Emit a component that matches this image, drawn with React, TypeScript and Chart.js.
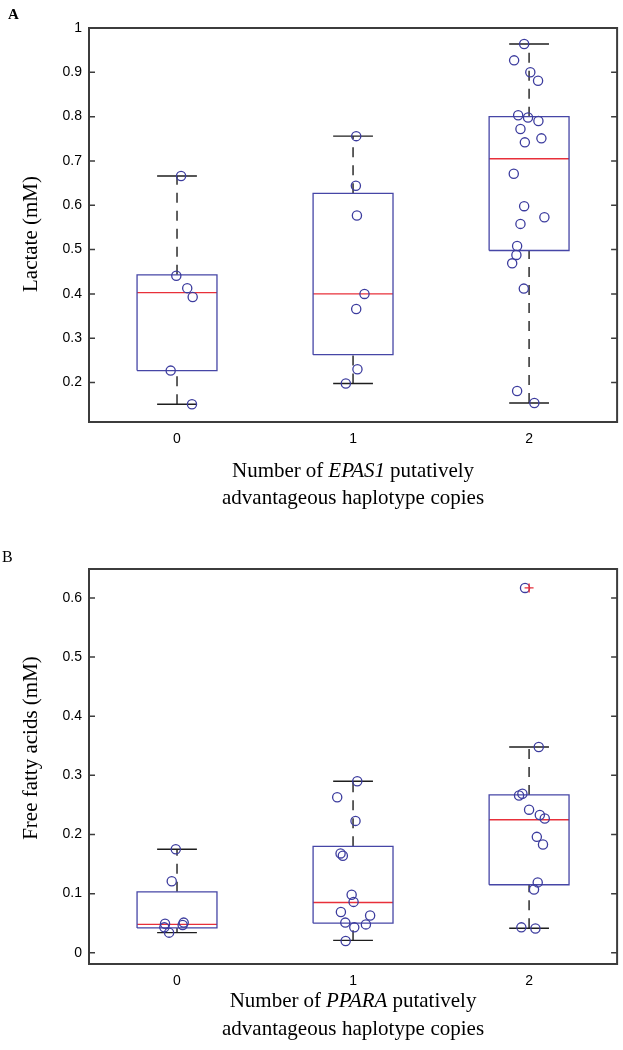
import React, { useEffect, useRef } from "react";
import { Chart, registerables } from "chart.js";

Chart.register(...registerables);

// ---------- shared categories ----------
const categories = [0, 1, 2];
const categoryLabels = ["0", "1", "2"];

// ---------- Panel A: Lactate ----------
const lacYTicks = [0.2, 0.3, 0.4, 0.5, 0.6, 0.7, 0.8, 0.9, 1.0];
const lacYMin = 0.111;
const lacYMax = 1.0;
const lacQ1 = [0.227, 0.263, 0.498];
const lacMedian = [0.403, 0.4, 0.705];
const lacQ3 = [0.443, 0.627, 0.8];
const lacWhiskerLow = [0.151, 0.198, 0.154];
const lacWhiskerHigh = [0.666, 0.756, 0.964];
const lacValues0 = [0.666, 0.441, 0.413, 0.393, 0.227, 0.151];
const lacJitter0 = [0.023, -0.004, 0.058, 0.089, -0.036, 0.085];
const lacValues1 = [0.756, 0.644, 0.577, 0.4, 0.366, 0.23, 0.198];
const lacJitter1 = [0.018, 0.016, 0.022, 0.065, 0.018, 0.025, -0.041];
const lacValues2 = [
  0.964, 0.927, 0.9, 0.881, 0.803, 0.798, 0.79, 0.772, 0.751, 0.742, 0.671,
  0.598, 0.573, 0.558, 0.508, 0.488, 0.469, 0.412, 0.181, 0.154,
];
const lacJitter2 = [
  -0.028, -0.085, 0.007, 0.051, -0.062, -0.006, 0.053, -0.049, 0.07, -0.024,
  -0.087, -0.028, 0.087, -0.049, -0.068, -0.072, -0.096, -0.03, -0.068, 0.03,
];
const lacOutlierCats: number[] = [];
const lacOutlierValues: number[] = [];

// ---------- Panel B: Free fatty acids ----------
const ffaYTicks = [0, 0.1, 0.2, 0.3, 0.4, 0.5, 0.6];
const ffaYMin = -0.019;
const ffaYMax = 0.649;
const ffaQ1 = [0.042, 0.05, 0.115];
const ffaMedian = [0.048, 0.085, 0.225];
const ffaQ3 = [0.103, 0.18, 0.267];
const ffaWhiskerLow = [0.034, 0.021, 0.0414];
const ffaWhiskerHigh = [0.175, 0.29, 0.348];
const ffaValues0 = [0.175, 0.121, 0.049, 0.043, 0.034, 0.051, 0.047];
const ffaJitter0 = [-0.007, -0.03, -0.068, -0.072, -0.045, 0.038, 0.032];
const ffaValues1 = [
  0.29, 0.263, 0.223, 0.168, 0.164, 0.098, 0.086, 0.069, 0.063, 0.051, 0.048,
  0.043, 0.02,
];
const ffaJitter1 = [
  0.024, -0.09, 0.014, -0.071, -0.058, -0.008, 0.003, -0.069, 0.097, -0.044,
  0.073, 0.007, -0.042,
];
const ffaValues2 = [
  0.617, 0.348, 0.269, 0.266, 0.242, 0.233, 0.227, 0.196, 0.183, 0.119, 0.107,
  0.043, 0.041,
];
const ffaJitter2 = [
  -0.023, 0.055, -0.038, -0.057, 0, 0.061, 0.089, 0.044, 0.079, 0.049, 0.028,
  -0.044, 0.036,
];
const ffaOutlierCats = [2];
const ffaOutlierValues = [0.617];

// ---------- styles ----------
const BOX_HALF = 0.227;
const CAP_HALF = 0.113;
const BOX_COLOR = "#4646a6";
const POINT_COLOR = "#3c3c9e";
const MEDIAN_COLOR = "#e8303a";
const WHISKER_COLOR = "#1e1e1e";
const FRAME_COLOR = "#3c3c3c";
const TEXT_COLOR = "#000000";
const TICK_FONT = { family: "'Liberation Sans', Arial, sans-serif", size: 14 };
const SERIF = "'Liberation Serif', 'Times New Roman', serif";

type Seg = { text: string; italic?: boolean };

interface PanelCfg {
  canvasHeight: number;
  padTop: number;
  xHeight: number;
  yTicks: number[];
  yMin: number;
  yMax: number;
  q1: number[];
  median: number[];
  q3: number[];
  wLow: number[];
  wHigh: number[];
  values: number[][];
  jitter: number[][];
  outCats: number[];
  outValues: number[];
  yTitle: string;
  yTitleX: number;
  yTitleY: number;
  line1: Seg[];
  line2: Seg[];
  line1Width: number;
  line2Width: number;
  line1Base: number;
  line2Base: number;
  panelLabel: string;
  panelLabelX: number;
  panelLabelY: number;
  panelLabelFont: string;
}

function seg(data: { x: number; y: number }[], color: string, dash: number[], width = 1.3) {
  return {
    type: "scatter" as const,
    data,
    showLine: true,
    borderColor: color,
    borderWidth: width,
    borderDash: dash,
    pointRadius: 0,
    pointHoverRadius: 0,
    fill: false,
    order: 2,
    clip: false,
  };
}

function buildDatasets(p: PanelCfg) {
  const ds: any[] = [];
  categories.forEach((c, i) => {
    ds.push({
      type: "scatter",
      data: p.values[i].map((v, k) => ({ x: c + p.jitter[i][k], y: v })),
      pointStyle: "circle",
      pointRadius: 4.6,
      pointBorderWidth: 1.3,
      borderColor: POINT_COLOR,
      backgroundColor: "rgba(0,0,0,0)",
      order: 0,
    });
    ds.push(
      seg(
        [
          { x: c - BOX_HALF, y: p.q1[i] },
          { x: c + BOX_HALF, y: p.q1[i] },
          { x: c + BOX_HALF, y: p.q3[i] },
          { x: c - BOX_HALF, y: p.q3[i] },
          { x: c - BOX_HALF, y: p.q1[i] },
        ],
        BOX_COLOR,
        []
      )
    );
    ds.push(
      seg(
        [
          { x: c - BOX_HALF, y: p.median[i] },
          { x: c + BOX_HALF, y: p.median[i] },
        ],
        MEDIAN_COLOR,
        [],
        1.4
      )
    );
    ds.push(
      seg(
        [
          { x: c, y: p.q3[i] },
          { x: c, y: p.wHigh[i] },
        ],
        WHISKER_COLOR,
        [10, 8],
        1.4
      )
    );
    ds.push(
      seg(
        [
          { x: c, y: p.wLow[i] },
          { x: c, y: p.q1[i] },
        ],
        WHISKER_COLOR,
        [10, 8],
        1.4
      )
    );
    ds.push(
      seg(
        [
          { x: c - CAP_HALF, y: p.wHigh[i] },
          { x: c + CAP_HALF, y: p.wHigh[i] },
        ],
        WHISKER_COLOR,
        [],
        1.4
      )
    );
    ds.push(
      seg(
        [
          { x: c - CAP_HALF, y: p.wLow[i] },
          { x: c + CAP_HALF, y: p.wLow[i] },
        ],
        WHISKER_COLOR,
        [],
        1.4
      )
    );
  });
  if (p.outCats.length) {
    ds.push({
      type: "scatter",
      data: p.outCats.map((c, k) => ({ x: c, y: p.outValues[k] })),
      pointStyle: "cross",
      pointRadius: 4.5,
      pointBorderWidth: 1.4,
      borderColor: MEDIAN_COLOR,
      backgroundColor: MEDIAN_COLOR,
      order: -1,
    });
  }
  return ds;
}

function segFont(s: Seg) {
  return `${s.italic ? "italic " : ""}21px ${SERIF}`;
}

function drawJustified(ctx: CanvasRenderingContext2D, segs: Seg[], cx: number, base: number, target: number) {
  const widths = segs.map((s) => {
    ctx.font = segFont(s);
    return ctx.measureText(s.text).width;
  });
  const total = widths.reduce((a, b) => a + b, 0);
  const gap = segs.length > 1 ? Math.max(5, (target - total) / (segs.length - 1)) : 0;
  const full = total + gap * (segs.length - 1);
  let x = cx - full / 2;
  ctx.textAlign = "left";
  ctx.textBaseline = "alphabetic";
  segs.forEach((s, i) => {
    ctx.font = segFont(s);
    ctx.fillText(s.text, x, base);
    x += widths[i] + gap;
  });
}

function decoPlugin(p: PanelCfg) {
  return {
    id: "deco",
    afterDraw(chart: any) {
      const ctx: CanvasRenderingContext2D = chart.ctx;
      const { left, right, top, bottom } = chart.chartArea;
      const yScale = chart.scales.y;
      ctx.save();
      ctx.strokeStyle = FRAME_COLOR;
      ctx.lineWidth = 1.5;
      p.yTicks.forEach((v) => {
        const py = yScale.getPixelForValue(v);
        ctx.beginPath();
        ctx.moveTo(left, py);
        ctx.lineTo(left + 6, py);
        ctx.moveTo(right, py);
        ctx.lineTo(right - 6, py);
        ctx.stroke();
      });
      ctx.lineWidth = 2;
      ctx.strokeRect(left, top, right - left, bottom - top);
      ctx.fillStyle = TEXT_COLOR;
      ctx.save();
      ctx.translate(p.yTitleX, p.yTitleY);
      ctx.rotate(-Math.PI / 2);
      ctx.font = `21px ${SERIF}`;
      ctx.textAlign = "center";
      ctx.textBaseline = "alphabetic";
      ctx.fillText(p.yTitle, 0, 0);
      ctx.restore();
      const cx = (left + right) / 2;
      drawJustified(ctx, p.line1, cx, p.line1Base, p.line1Width);
      drawJustified(ctx, p.line2, cx, p.line2Base, p.line2Width);
      ctx.font = p.panelLabelFont;
      ctx.textAlign = "left";
      ctx.textBaseline = "alphabetic";
      ctx.fillText(p.panelLabel, p.panelLabelX, p.panelLabelY);
      ctx.restore();
    },
  };
}

function fmt(v: number) {
  return String(Number(v.toFixed(1)));
}

function buildConfig(p: PanelCfg): any {
  return {
    type: "scatter",
    data: { datasets: buildDatasets(p) },
    options: {
      responsive: false,
      animation: false,
      events: [],
      layout: { padding: { top: p.padTop, right: 4, left: 0, bottom: 0 } },
      plugins: { legend: { display: false }, tooltip: { enabled: false } },
      scales: {
        x: {
          type: "linear",
          min: -0.5,
          max: 2.5,
          afterBuildTicks: (s: any) => {
            s.ticks = categories.map((v) => ({ value: v }));
          },
          afterFit: (s: any) => {
            s.height = p.xHeight;
          },
          grid: { display: false, drawTicks: false },
          border: { display: false },
          ticks: {
            padding: 9,
            font: TICK_FONT,
            color: TEXT_COLOR,
            maxRotation: 0,
            autoSkip: false,
            callback: (v: number) => {
              const i = categories.indexOf(v);
              return i >= 0 ? categoryLabels[i] : "";
            },
          },
        },
        y: {
          type: "linear",
          min: p.yMin,
          max: p.yMax,
          afterBuildTicks: (s: any) => {
            s.ticks = p.yTicks.map((v) => ({ value: v }));
          },
          afterFit: (s: any) => {
            s.width = 89;
          },
          grid: { display: false, drawTicks: false },
          border: { display: false },
          ticks: {
            padding: 7,
            font: TICK_FONT,
            color: TEXT_COLOR,
            autoSkip: false,
            callback: (v: number) => fmt(v),
          },
        },
      },
    },
    plugins: [decoPlugin(p)],
  };
}

const panelA: PanelCfg = {
  canvasHeight: 520,
  padTop: 28,
  xHeight: 98,
  yTicks: lacYTicks,
  yMin: lacYMin,
  yMax: lacYMax,
  q1: lacQ1,
  median: lacMedian,
  q3: lacQ3,
  wLow: lacWhiskerLow,
  wHigh: lacWhiskerHigh,
  values: [lacValues0, lacValues1, lacValues2],
  jitter: [lacJitter0, lacJitter1, lacJitter2],
  outCats: lacOutlierCats,
  outValues: lacOutlierValues,
  yTitle: "Lactate (mM)",
  yTitleX: 37,
  yTitleY: 234,
  line1: [{ text: "Number" }, { text: "of" }, { text: "EPAS1", italic: true }, { text: "putatively" }],
  line2: [{ text: "advantageous" }, { text: "haplotype" }, { text: "copies" }],
  line1Width: 242,
  line2Width: 262,
  line1Base: 477,
  line2Base: 504,
  panelLabel: "A",
  panelLabelX: 8,
  panelLabelY: 19,
  panelLabelFont: `bold 15px ${SERIF}`,
};

const panelB: PanelCfg = {
  canvasHeight: 530,
  padTop: 49,
  xHeight: 86,
  yTicks: ffaYTicks,
  yMin: ffaYMin,
  yMax: ffaYMax,
  q1: ffaQ1,
  median: ffaMedian,
  q3: ffaQ3,
  wLow: ffaWhiskerLow,
  wHigh: ffaWhiskerHigh,
  values: [ffaValues0, ffaValues1, ffaValues2],
  jitter: [ffaJitter0, ffaJitter1, ffaJitter2],
  outCats: ffaOutlierCats,
  outValues: ffaOutlierValues,
  yTitle: "Free fatty acids (mM)",
  yTitleX: 37,
  yTitleY: 228,
  line1: [{ text: "Number" }, { text: "of" }, { text: "PPARA", italic: true }, { text: "putatively" }],
  line2: [{ text: "advantageous" }, { text: "haplotype" }, { text: "copies" }],
  line1Width: 243,
  line2Width: 262,
  line1Base: 487,
  line2Base: 515,
  panelLabel: "B",
  panelLabelX: 2,
  panelLabelY: 42,
  panelLabelFont: `16px ${SERIF}`,
};

function Panel({ cfg, top }: { cfg: PanelCfg; top: number }) {
  const ref = useRef<HTMLCanvasElement>(null);
  useEffect(() => {
    if (!ref.current) return;
    const chart = new Chart(ref.current, buildConfig(cfg));
    return () => chart.destroy();
  }, [cfg]);
  return (
    <canvas
      ref={ref}
      width={623}
      height={cfg.canvasHeight}
      style={{ position: "absolute", left: 0, top, width: 623, height: cfg.canvasHeight }}
    />
  );
}

export default function App() {
  return (
    <div style={{ position: "absolute", left: 0, top: 0, width: 623, height: 1050, background: "#ffffff" }}>
      <Panel cfg={panelA} top={0} />
      <Panel cfg={panelB} top={520} />
    </div>
  );
}
